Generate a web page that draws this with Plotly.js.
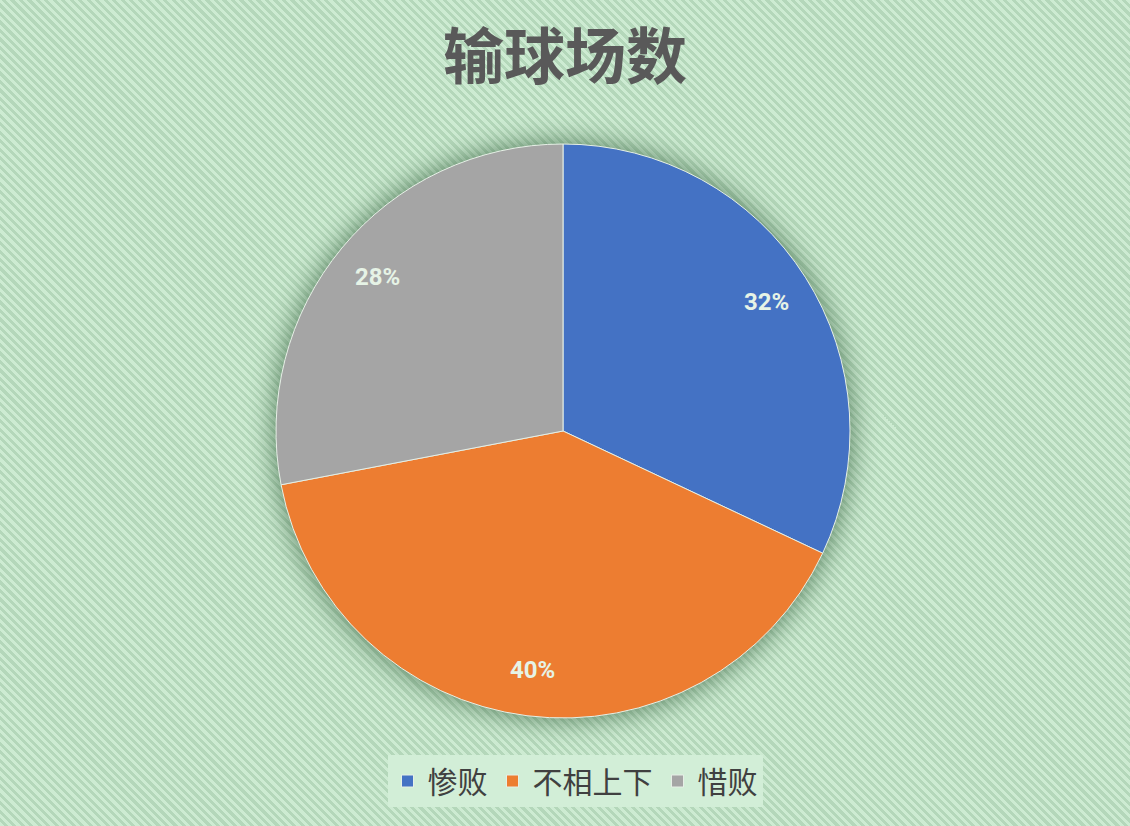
<!DOCTYPE html>
<html>
<head>
<meta charset="utf-8">
<script src="https://cdn.plot.ly/plotly-3.0.1.min.js"></script>
<style>
  html, body { margin: 0; padding: 0; }
  #chart {
    width: 1130px;
    height: 826px;
    background: repeating-linear-gradient(45deg, #cdebd2 0px, #cdebd2 3px, #b4d7ba 3px, #b4d7ba 6px);
  }
  /* soft halo round the pie */
  #chart .pielayer .trace { filter: drop-shadow(0 0 14px rgba(40, 85, 50, 0.75)); }
</style>
</head>
<body>
<div id="chart"></div>
<script>
const labels = ['惨败', '不相上下', '惜败'];
const values = [32, 40, 28];
const colors = ['#4472c4', '#ed7d31', '#a5a5a5'];

const W = 1130, H = 826;
const pieX = [276 / W, 850 / W];
const pieY = [108 / H, 682 / H];

// percent labels sit further out than plotly's own inside text, so place them
// as annotations on the middle angle of each slice
const total = values.reduce((a, b) => a + b, 0);
const cx = (pieX[0] + pieX[1]) / 2;
const cy = (pieY[0] + pieY[1]) / 2;
const rx = (pieX[1] - pieX[0]) / 2;
const ry = (pieY[1] - pieY[0]) / 2;
let cum = 0;
const annotations = values.map((v) => {
  const mid = (cum + v / 2) / total * 2 * Math.PI;
  cum += v;
  const k = 0.84;
  return {
    text: Math.round(v / total * 100) + '%',
    xref: 'paper', yref: 'paper',
    x: cx + k * rx * Math.sin(mid),
    y: cy + k * ry * Math.cos(mid),
    xanchor: 'center',
    yanchor: 'middle',
    showarrow: false,
    font: { family: 'Roboto, "Noto Sans", sans-serif', size: 24, color: '#e6f3e6', weight: 'bold' },
  };
});

Plotly.newPlot('chart', [{
  type: 'pie',
  labels: labels,
  values: values,
  sort: false,
  direction: 'clockwise',
  rotation: 0,
  marker: { colors: colors, line: { color: '#e6efe6', width: 1 } },
  textinfo: 'none',
  hoverinfo: 'label+percent',
  domain: { x: pieX, y: pieY },
}], {
  width: W,
  height: H,
  margin: { l: 0, r: 0, t: 0, b: 0 },
  paper_bgcolor: 'rgba(0,0,0,0)',
  plot_bgcolor: 'rgba(0,0,0,0)',
  title: {
    text: '输球场数',
    x: 0.5,
    xanchor: 'center',
    y: 1 - 58 / H,
    yanchor: 'middle',
    font: { family: '"Noto Sans CJK SC", sans-serif', size: 61, color: '#595959', weight: 'bold' },
  },
  annotations: annotations,
  showlegend: true,
  legend: {
    orientation: 'h',
    x: 575 / W,
    xanchor: 'center',
    y: 1 - 781 / H,
    yanchor: 'middle',
    bgcolor: '#d2eed7',
    font: { family: '"Noto Sans CJK SC", sans-serif', size: 30, color: '#404040' },
    itemwidth: 30,
  },
}, { displayModeBar: false, responsive: false });
</script>
</body>
</html>
